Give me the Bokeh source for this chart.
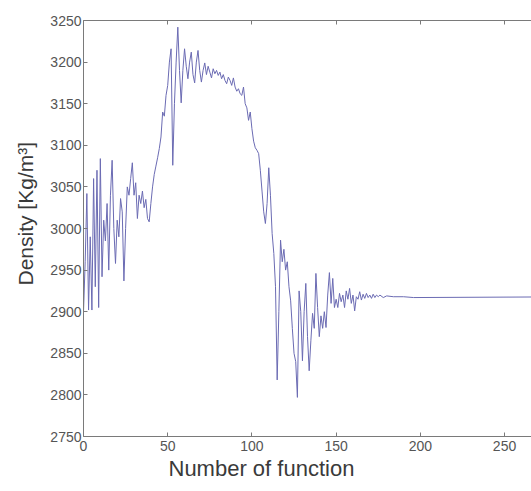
from bokeh.plotting import figure
from bokeh.models import LinearAxis, FixedTicker, Range1d, Title
from bokeh.embed import file_html
from bokeh.resources import INLINE

# Density evaluated at each function call (vertices of the trace)
func_no = [
    0, 1, 2, 3, 4, 5, 6, 7, 8, 9, 10, 11, 12, 13, 14, 15, 16, 17, 18, 19,
    20, 21, 22, 23, 24, 25, 26, 27, 28, 29, 30, 31, 32, 33, 34, 35, 36, 37, 38, 39,
    40, 41, 42, 43, 44, 45, 46, 47, 48, 49, 50, 51, 52, 53, 54, 55, 56, 57, 58, 59,
    60, 61, 62, 63, 64, 65, 66, 67, 68, 69, 70, 71, 72, 73, 74, 75, 76, 77, 78, 79,
    80, 81, 82, 83, 84, 85, 86, 87, 88, 89, 90, 91, 92, 93, 94, 95, 96, 97, 98, 99,
    100, 101, 102, 103, 104, 105, 106, 107, 108, 109, 110, 111, 112, 113, 114, 115,
    116, 117, 118, 119, 120, 121, 122, 123, 124, 125, 126, 127, 128, 129, 130, 131,
    132, 133, 134, 135, 136, 137, 138, 139, 140, 141, 142, 143, 144, 145, 146, 147,
    148, 149, 150, 151, 152, 153, 154, 155, 156, 157, 158, 159, 160, 161, 162, 163,
    164, 165, 166, 167, 168, 169, 170, 171, 172, 173, 174, 175, 176, 178, 180, 184,
    190, 196, 300,
]
density = [
    2900, 2960, 3042, 2902, 2990, 2902, 3060, 2930, 3070, 2905, 3084, 2942, 3010, 2985, 3030, 2950, 3040, 3082, 3000, 2958,
    3010, 2990, 3036, 3020, 2937, 3000, 3050, 3040, 3060, 3079, 3040, 3055, 3012, 3040, 3030, 3045, 3025, 3035, 3012, 3008,
    3030, 3050, 3065, 3075, 3085, 3096, 3110, 3140, 3135, 3160, 3172, 3200, 3216, 3076, 3150, 3200, 3242, 3190, 3151, 3190,
    3216, 3195, 3180, 3200, 3212, 3185, 3175, 3200, 3214, 3190, 3176, 3190, 3199, 3185, 3195, 3188, 3181, 3192, 3186, 3190,
    3184, 3188, 3180, 3185, 3178, 3174, 3182, 3178, 3172, 3181, 3170, 3165, 3168, 3162, 3160, 3170, 3150, 3145, 3130, 3140,
    3120, 3105, 3097, 3094, 3090, 3070, 3045, 3020, 3006, 3030, 3073, 3040, 2994, 2970, 2930, 2818,
    2900, 2986, 2960, 2975, 2950, 2960, 2930, 2913, 2880, 2850, 2840, 2797, 2925, 2900, 2841, 2900,
    2934, 2870, 2829, 2865, 2898, 2880, 2946, 2905, 2870, 2895, 2880, 2900, 2881, 2920, 2947, 2910,
    2940, 2905, 2915, 2905, 2922, 2912, 2920, 2905, 2925, 2915, 2928, 2910, 2920, 2901, 2918, 2915,
    2924, 2914, 2921, 2916, 2922, 2917, 2920, 2916, 2921, 2917, 2920, 2918, 2920, 2917, 2919, 2918,
    2918, 2917, 2918,
]
x_ticks = [0, 50, 100, 150, 200, 250]
y_ticks = [2750, 2800, 2850, 2900, 2950, 3000, 3050, 3100, 3150, 3200, 3250]

FONT = "Liberation Sans"
AXIS_COLOR = "#7a7a7a"
LABEL_COLOR = "#3a3a3a"

p = figure(
    width=531, height=491,
    output_backend="svg", toolbar_location=None,
    x_range=Range1d(0, 266), y_range=Range1d(2750, 3250),
    min_border_left=83, min_border_right=0,
    min_border_top=20, min_border_bottom=55,
    background_fill_color="white", border_fill_color="white",
)
p.outline_line_color = None
p.grid.visible = False

p.line(func_no, density, line_color="#6b6bb3", line_width=1)

for ax in (p.xaxis[0], p.yaxis[0]):
    ax.axis_line_color = AXIS_COLOR
    ax.major_tick_line_color = AXIS_COLOR
    ax.major_tick_in = 4
    ax.major_tick_out = 0
    ax.minor_tick_line_color = None
    ax.major_label_text_font = FONT
    ax.major_label_text_font_size = "14px"
    ax.major_label_text_color = "#555555"

p.xaxis.ticker = FixedTicker(ticks=x_ticks)
p.yaxis.ticker = FixedTicker(ticks=y_ticks)
p.xaxis.major_label_standoff = 4
p.yaxis.major_label_standoff = 2

# axis titles as side-panel titles, offset along the frame edge
x_title = Title(
    text="Number of function", align="left", offset=85, standoff=0,
    text_font=FONT, text_font_size="22px", text_color=LABEL_COLOR,
    text_font_style="normal",
)
p.add_layout(x_title, "below")
y_title = Title(
    text="Density [Kg/m³]", align="left", offset=151, standoff=21,
    text_font=FONT, text_font_size="21px", text_color=LABEL_COLOR,
    text_font_style="normal",
)
p.add_layout(y_title, "left")

# box line along the top with inward ticks, no labels
top = LinearAxis(ticker=FixedTicker(ticks=x_ticks))
top.axis_line_color = AXIS_COLOR
top.major_tick_line_color = AXIS_COLOR
top.major_tick_in = 4
top.major_tick_out = 0
top.minor_tick_line_color = None
top.major_label_text_font_size = "0px"
top.major_label_text_color = None
p.add_layout(top, "above")

open("out.html", "w").write(file_html(p, INLINE))
